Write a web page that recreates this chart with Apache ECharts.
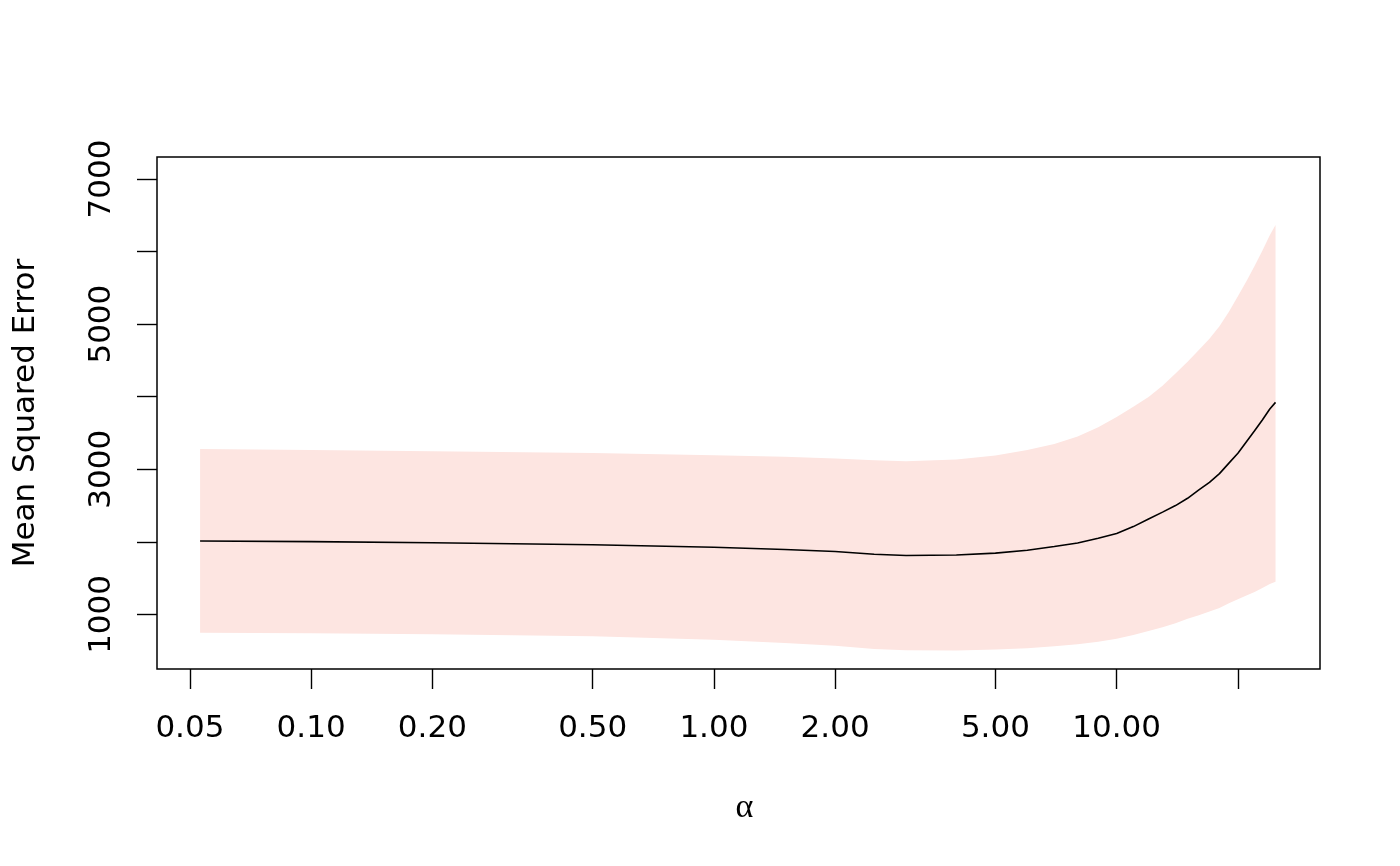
<!DOCTYPE html>
<html><head><meta charset="utf-8">
<script src="https://cdn.jsdelivr.net/npm/echarts@6/dist/echarts.min.js"></script>
<style>html,body{margin:0;padding:0;background:#fff}#chart{width:1400px;height:866px}</style>
</head><body><div id="chart"></div>
<script>
// alpha grid (x)
const alphaValues = [0.053, 0.1, 0.2, 0.5, 1, 1.5, 2, 2.5, 3, 4, 5, 6, 7, 8, 9, 10, 11, 12, 13, 14, 15, 16, 17, 18, 19, 20, 21, 22, 23, 24, 24.8];
const mseMean  = [2012, 2003, 1988, 1960, 1925, 1895, 1868, 1830, 1812, 1818, 1845, 1885, 1935, 1985, 2050, 2115, 2210, 2315, 2410, 2500, 2600, 2715, 2820, 2940, 3085, 3220, 3380, 3530, 3680, 3830, 3922];
const mseUpper = [3279, 3265, 3250, 3225, 3195, 3172, 3150, 3125, 3112, 3135, 3190, 3265, 3350, 3450, 3580, 3720, 3860, 3995, 4150, 4320, 4480, 4645, 4800, 4970, 5170, 5385, 5590, 5800, 6010, 6225, 6366];
const mseLower = [748, 740, 728, 700, 650, 605, 570, 525, 508, 503, 515, 535, 560, 590, 622, 665, 715, 770, 825, 880, 940, 990, 1040, 1090, 1155, 1210, 1260, 1310, 1365, 1420, 1451];
const xTicks = [0.05, 0.1, 0.2, 0.5, 1, 2, 5, 10, 20];
const xTickLabels = [0.05, 0.1, 0.2, 0.5, 1, 2, 5, 10];
const yTicks = [1000, 2000, 3000, 4000, 5000, 6000, 7000];
const yTickLabels = [1000, 3000, 5000, 7000];

const chart = echarts.init(document.getElementById('chart'), null, {renderer: 'canvas'});
const FONT = 'DejaVu Sans';
chart.setOption({
  animation: false,
  backgroundColor: '#fff',
  grid: {left: 157, top: 157, right: 80, bottom: 197, show: true, borderColor: '#000', borderWidth: 1.5, backgroundColor: 'transparent'},
  xAxis: {
    type: 'log', logBase: 10, min: 0.04143, max: 31.98,
    splitLine: {show: false}, minorTick: {show: false},
    axisLine: {show: false},
    axisTick: {show: true, inside: false, length: 20, customValues: xTicks, lineStyle: {color: '#000', width: 1.4}},
    axisLabel: {show: true, customValues: xTickLabels, margin: 44, fontFamily: FONT, fontSize: 31, color: '#000',
      formatter: v => Number(v).toFixed(2)},
    name: 'α', nameLocation: 'middle', nameGap: 122,
    nameTextStyle: {fontFamily: 'Liberation Serif', fontSize: 34, color: '#000', padding: [0, 0, 0, 12]}
  },
  yAxis: {
    type: 'value', min: 248, max: 7303,
    splitLine: {show: false},
    axisLine: {show: false},
    axisTick: {show: true, inside: false, length: 20, customValues: yTicks, lineStyle: {color: '#000', width: 1.4}},
    axisLabel: {show: true, customValues: yTickLabels, rotate: 90, margin: 40, fontFamily: FONT, fontSize: 31, color: '#000',
      formatter: v => String(Math.round(v))},
    name: 'Mean Squared Error', nameLocation: 'middle', nameGap: 116, nameRotate: 90,
    nameTextStyle: {fontFamily: FONT, fontSize: 31, color: '#000'}
  },
  series: [
    {
      type: 'custom', silent: true, z: 1,
      data: alphaValues.map((a, i) => [a, mseUpper[i]]),
      encode: {x: 0, y: 1},
      renderItem: function (params, api) {
        if (params.dataIndex !== 0) return null;
        const pts = [];
        for (let i = 0; i < alphaValues.length; i++) pts.push(api.coord([alphaValues[i], mseUpper[i]]));
        for (let i = alphaValues.length - 1; i >= 0; i--) pts.push(api.coord([alphaValues[i], mseLower[i]]));
        return {type: 'polygon', shape: {points: pts}, style: {fill: '#FDE5E1'}};
      }
    },
    {
      type: 'line', z: 2, silent: true, smooth: false, symbol: 'none',
      data: alphaValues.map((a, i) => [a, mseMean[i]]),
      lineStyle: {color: '#000', width: 1.6}
    }
  ]
});
</script></body></html>
